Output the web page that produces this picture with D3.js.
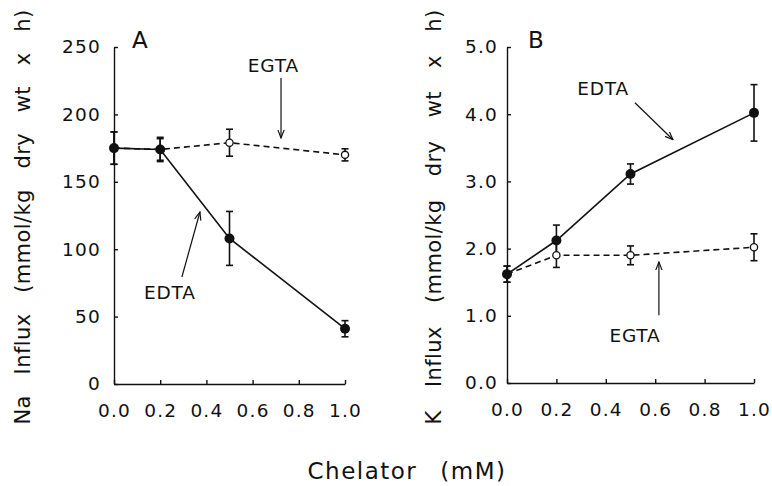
<!DOCTYPE html>
<html lang="en">
<head>
<meta charset="UTF-8">
<title>Chelator influx</title>
<script src="https://d3js.org/d3.v7.min.js"></script>
<style>
    body { margin: 0; background: #fff; }
    svg text { font-family: "DejaVu Sans", sans-serif; fill: #111; }
    .axis path, .axis line { stroke: #111; stroke-width: 1.4; }
    .axis text { font-size: 18.5px; letter-spacing: 1.2px; }
</style>
</head>
<body>
<svg id="chart" width="772" height="486"></svg>
<script>
// Data
const chelator = [0.0, 0.2, 0.5, 1.0];
const xTicks = [0.0, 0.2, 0.4, 0.6, 0.8, 1.0];

// Panel A: Na influx
const naTicks = [0, 50, 100, 150, 200, 250];
const naEDTA = [175, 174, 108, 41];
const naEDTAerr = [12, 9, 20, 6];
const naEGTA = [175, 174, 179, 170];
const naEGTAerr = [12, 8, 10, 4.5];

// Panel B: K influx
const kTicks = [0, 1, 2, 3, 4, 5];
const kEDTA = [1.62, 2.12, 3.11, 4.02];
const kEDTAerr = [0.12, 0.23, 0.15, 0.42];
const kEGTA = [1.62, 1.9, 1.9, 2.02];
const kEGTAerr = [0.12, 0.18, 0.14, 0.2];

const svg = d3.select("#chart");

svg.append("defs").append("marker")
    .attr("id", "head")
    .attr("viewBox", "0 -5 10 10")
    .attr("refX", 9).attr("refY", 0)
    .attr("markerWidth", 9).attr("markerHeight", 9)
    .attr("markerUnits", "userSpaceOnUse")
    .attr("orient", "auto")
    .append("path")
    .attr("d", "M0,-3.5L9,0L0,3.5")
    .attr("fill", "none")
    .attr("stroke", "#111")
    .attr("stroke-width", 1.3);

// spread words so a label fills a given length (the original uses wide word gaps)
function spreadWords(sel, len) {
    const node = sel.node();
    const gaps = node.textContent.split(" ").length - 1;
    const w = node.getComputedTextLength();
    sel.style("word-spacing", Math.max(0, (len - w) / gaps) + "px");
}

const panels = [
    {
        x: d3.scaleLinear().domain([0, 1]).range([114, 345]),
        y: d3.scaleLinear().domain([0, 250]).range([384, 47]),
        yTicks: naTicks, yFmt: d3.format("d"), yPad: 13,
        edta: naEDTA, edtaErr: naEDTAerr, egta: naEGTA, egtaErr: naEGTAerr,
        title: "Na Influx (mmol/kg dry wt x h)", titleX: 23,
        letter: "A", letterAt: [0.078, 249],
        notes: [
            { text: "EGTA", at: [0.69, 231.5], from: [0.723, 227], to: [0.723, 182.5] },
            { text: "EDTA", at: [0.242, 63], from: [0.294, 79.4], to: [0.372, 127.6] }
        ]
    },
    {
        x: d3.scaleLinear().domain([0, 1]).range([507, 754]),
        y: d3.scaleLinear().domain([0, 5]).range([383, 47]),
        yTicks: kTicks, yFmt: d3.format(".1f"), yPad: 9,
        edta: kEDTA, edtaErr: kEDTAerr, egta: kEGTA, egtaErr: kEGTAerr,
        title: "K Influx (mmol/kg dry wt x h)", titleX: 434,
        letter: "B", letterAt: [0.085, 4.985],
        notes: [
            { text: "EDTA", at: [0.389, 4.29], from: [0.518, 4.17], to: [0.672, 3.62] },
            { text: "EGTA", at: [0.518, 0.61], from: [0.615, 1.01], to: [0.615, 1.80] }
        ]
    }
];

panels.forEach(p => {
    const g = svg.append("g");
    const y0 = p.y.range()[0];
    const x0 = p.x.range()[0];

    // axes, ticks pointing inward
    g.append("g").attr("class", "axis")
        .attr("transform", `translate(0,${y0})`)
        .call(d3.axisBottom(p.x).tickValues(xTicks).tickFormat(d3.format(".1f"))
            .tickSizeInner(-4).tickSizeOuter(0).tickPadding(20));
    g.append("g").attr("class", "axis")
        .attr("transform", `translate(${x0},0)`)
        .call(d3.axisLeft(p.y).tickValues(p.yTicks).tickFormat(p.yFmt)
            .tickSizeInner(-4).tickSizeOuter(0).tickPadding(p.yPad));
    g.selectAll(".axis .domain").attr("stroke-width", 1.6);

    // y title
    const yt = g.append("text")
        .attr("transform", `translate(${p.titleX},217) rotate(-90)`)
        .attr("text-anchor", "middle")
        .attr("dominant-baseline", "central")
        .style("font-size", "21px")
        .style("letter-spacing", "0.4px")
        .text(p.title);
    spreadWords(yt, 415);

    // panel letter
    g.append("text")
        .attr("x", p.x(p.letterAt[0])).attr("y", p.y(p.letterAt[1]))
        .style("font-size", "23px")
        .text(p.letter);

    const line = d3.line().x((d, i) => p.x(chelator[i])).y(d => p.y(d));

    // EGTA: dashed line, open circles
    g.append("path").datum(p.egta)
        .attr("d", line).attr("fill", "none")
        .attr("stroke", "#111").attr("stroke-width", 1.6)
        .attr("stroke-dasharray", "6,4");
    // EDTA: solid line
    g.append("path").datum(p.edta)
        .attr("d", line).attr("fill", "none")
        .attr("stroke", "#111").attr("stroke-width", 1.6);

    // error bars
    const bars = [];
    chelator.forEach((c, i) => {
        bars.push({ x: c, v: p.egta[i], e: p.egtaErr[i] });
        bars.push({ x: c, v: p.edta[i], e: p.edtaErr[i] });
    });
    const eb = g.selectAll(".eb").data(bars).enter().append("g")
        .attr("stroke", "#111").attr("stroke-width", 1.6);
    eb.append("line")
        .attr("x1", d => p.x(d.x)).attr("x2", d => p.x(d.x))
        .attr("y1", d => p.y(d.v + d.e)).attr("y2", d => p.y(d.v - d.e));
    eb.append("line")
        .attr("x1", d => p.x(d.x) - 3.5).attr("x2", d => p.x(d.x) + 3.5)
        .attr("y1", d => p.y(d.v + d.e)).attr("y2", d => p.y(d.v + d.e));
    eb.append("line")
        .attr("x1", d => p.x(d.x) - 3.5).attr("x2", d => p.x(d.x) + 3.5)
        .attr("y1", d => p.y(d.v - d.e)).attr("y2", d => p.y(d.v - d.e));

    g.selectAll(".egta").data(p.egta).enter().append("circle")
        .attr("cx", (d, i) => p.x(chelator[i])).attr("cy", d => p.y(d))
        .attr("r", 3.6).attr("fill", "#fff")
        .attr("stroke", "#111").attr("stroke-width", 1.3);
    g.selectAll(".edta").data(p.edta).enter().append("circle")
        .attr("cx", (d, i) => p.x(chelator[i])).attr("cy", d => p.y(d))
        .attr("r", 5).attr("fill", "#111");

    // annotations with arrows
    p.notes.forEach(n => {
        g.append("text")
            .attr("x", p.x(n.at[0])).attr("y", p.y(n.at[1]))
            .attr("text-anchor", "middle")
            .style("font-size", "18.5px")
            .style("letter-spacing", "0.8px")
            .text(n.text);
        g.append("line")
            .attr("x1", p.x(n.from[0])).attr("y1", p.y(n.from[1]))
            .attr("x2", p.x(n.to[0])).attr("y2", p.y(n.to[1]))
            .attr("stroke", "#111").attr("stroke-width", 1.2)
            .attr("marker-end", "url(#head)");
    });
});

// shared x title
const xt = svg.append("text")
    .attr("x", 407).attr("y", 471)
    .attr("text-anchor", "middle")
    .attr("dominant-baseline", "central")
    .style("font-size", "23px")
    .style("letter-spacing", "1.5px")
    .text("Chelator (mM)");
spreadWords(xt, 199);
</script>
</body>
</html>
